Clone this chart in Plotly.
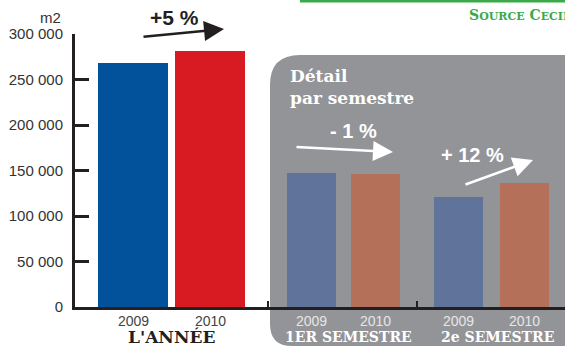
import plotly.graph_objects as go

# ---- data ----
years = ["2009", "2010"]
groups = ["L'ANNÉE", "1ER SEMESTRE", "2e SEMESTRE"]
annual = [268000, 281000]
sem1 = [147000, 146000]
sem2 = [121000, 136000]
changes = ["+5 %", "- 1 %", "+ 12 %"]
y_ticks = [0, 50000, 100000, 150000, 200000, 250000, 300000]
y_ticklabels = ["0", "50 000", "100 000", "150 000", "200 000", "250 000", "300 000"]

# ---- layout constants (pixels) ----
W, H = 565, 346
L, T, B = 75, 34, 39
PW = W - L
PH = H - T - B
Y0 = H - B  # pixel y of baseline

def px(x):
    return (x - L) / PW

def py(y):
    return (Y0 - y) / PH

bar_centers = [[58, 135], [236.5, 300.5], [383.5, 449.5]]
bar_widths = [70, 49, 49]
colors = [["#01519b", "#d81b22"], ["#60739b", "#b5705a"], ["#60739b", "#b5705a"]]
series = [annual, sem1, sem2]

fig = go.Figure()
for g, vals in enumerate(series):
    for i, v in enumerate(vals):
        fig.add_trace(go.Bar(
            x=[bar_centers[g][i]], y=[v], width=bar_widths[g],
            marker=dict(color=colors[g][i], line=dict(width=0)),
            showlegend=False, hoverinfo="skip"))

# gray rounded panel
x0, x1 = px(270), px(600)
yt = py(55)
rx = 30 / PW
ry = 30 / PH
rbx = 22 / PW
rby = 22 / PH
path = (f"M {x1},{yt} L {x0+rx},{yt} Q {x0},{yt} {x0},{yt-ry} "
        f"L {x0},{py(346)+rby} Q {x0},{py(346)} {x0+rbx},{py(346)} "
        f"L {x1},{py(346)} Z")
fig.add_shape(type="path", path=path, xref="paper", yref="paper",
              fillcolor="#939497", line=dict(width=0), layer="below")

# green line at top
fig.add_shape(type="line", xref="paper", yref="paper", x0=px(300), x1=px(566),
              y0=py(1), y1=py(1), line=dict(color="#3aaa48", width=3))

ann = []
# m2
ann.append(dict(text="m2", x=px(63), y=py(18), xanchor="right", yanchor="middle",
                font=dict(size=15, color="#333", family="Liberation Sans")))
# source
ann.append(dict(text="<b>S<span style='font-size:11px'>OURCE</span> C<span style='font-size:11px'>ECIM</span></b>",
                x=px(467), y=py(15), xanchor="left", yanchor="middle",
                font=dict(size=14, color="#3aaa48", family="DejaVu Serif"),))
# change labels
cfont = "Liberation Sans Narrow, Liberation Sans"
ann.append(dict(text="<b>" + changes[0] + "</b>", x=px(174), y=py(18), xanchor="center", yanchor="middle",
                font=dict(size=21, color="#231f20", family=cfont)))
ann.append(dict(text="<b>" + changes[1] + "</b>", x=px(353), y=py(131), xanchor="center", yanchor="middle",
                font=dict(size=20, color="white", family=cfont)))
ann.append(dict(text="<b>" + changes[2] + "</b>", x=px(472), y=py(155), xanchor="center", yanchor="middle",
                font=dict(size=20, color="white", family=cfont)))
# title of panel
ann.append(dict(text="<b>Détail<br>par semestre</b>", x=px(288), y=py(64), xanchor="left", yanchor="top",
                align="left", font=dict(size=17, color="white", family="DejaVu Serif")))
# arrows
arrows = [((142, 37), (224, 29), "#231f20"),
          ((295, 147), (393, 152), "white"),
          ((464, 185), (533, 160), "white")]
for (tx, ty), (hx, hy), c in arrows:
    ann.append(dict(text="", x=px(hx), y=py(hy), ax=tx - hx, ay=ty - hy,
                    showarrow=True, arrowhead=2, arrowsize=1.6, arrowwidth=2.5,
                    arrowcolor=c, standoff=0, startstandoff=0))
# year labels
for g in range(3):
    for i in range(2):
        ann.append(dict(text=years[i], x=px(L + bar_centers[g][i]), y=py(321), xanchor="center",
                        yanchor="middle",
                        font=dict(size=14, color="#444" if g == 0 else "#e6e6e6",
                                  family="Liberation Sans")))
# group labels
gx = [171, 348, 497]
for g in range(3):
    ann.append(dict(text="<b>" + groups[g] + "</b>", x=px(gx[g]), y=py(337), xanchor="center",
                    yanchor="middle",
                    font=dict(size=17 if g == 0 else 14, color="#231f20" if g == 0 else "white",
                              family="DejaVu Serif")))
for a in ann:
    a.setdefault("showarrow", False)
    a["xref"] = "paper"
    a["yref"] = "paper"

fig.update_layout(
    width=W, height=H, margin=dict(l=L, r=0, t=T, b=B, pad=0),
    paper_bgcolor="white", plot_bgcolor="rgba(0,0,0,0)",
    annotations=ann, bargap=0, showlegend=False,
    xaxis=dict(range=[0, PW], showgrid=False, zeroline=False, showline=True,
               linecolor="#231f20", linewidth=3, ticks="inside", ticklen=6, tickwidth=2,
               tickcolor="#231f20", tickvals=[193, 342], showticklabels=False, fixedrange=True),
    yaxis=dict(range=[0, 300000], showgrid=False, zeroline=False, showline=True,
               linecolor="#231f20", linewidth=3, ticks="inside", ticklen=14, tickwidth=3,
               tickcolor="#231f20", tickvals=y_ticks, ticktext=y_ticklabels,
               ticklabelstandoff=6,
               tickfont=dict(size=15, color="#333", family="Liberation Sans"), fixedrange=True),
)

fig.write_html("out.html")
